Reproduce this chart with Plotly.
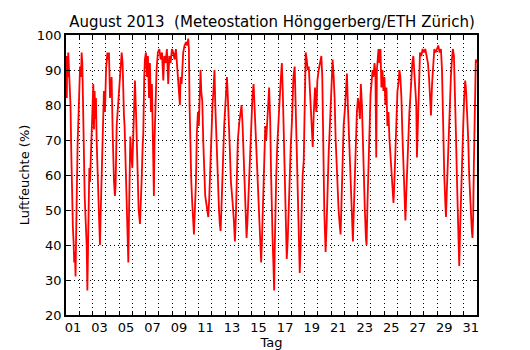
import plotly.graph_objects as go

# Time in days since 1 Aug 2013 00:00, relative humidity in %
t_day = [
    0.00, 0.03, 0.06, 0.09, 0.13, 0.17, 0.22, 0.28, 0.34, 0.40, 0.46, 0.52, 0.57, 0.62, 0.67, 0.72, 0.76, 0.80, 0.84, 0.88, 0.92, 0.96,
    1.00, 1.06, 1.13, 1.18, 1.23, 1.31, 1.36, 1.41, 1.46, 1.51, 1.56, 1.61, 1.66, 1.71, 1.76, 1.81, 1.86, 1.93,
    2.01, 2.06, 2.11, 2.16, 2.21, 2.26, 2.31, 2.39, 2.46, 2.51, 2.56, 2.61, 2.69, 2.76, 2.81, 2.86, 2.94,
    3.02, 3.12, 3.19, 3.24, 3.32, 3.39, 3.44, 3.52, 3.57, 3.62, 3.69, 3.74, 3.82, 3.89, 3.94,
    4.02, 4.10, 4.20, 4.27, 4.32, 4.37, 4.42, 4.50, 4.57, 4.65, 4.70, 4.75, 4.80, 4.85, 4.92,
    5.00, 5.08, 5.15, 5.20, 5.28, 5.35, 5.43, 5.48, 5.58, 5.65, 5.70, 5.78, 5.83, 5.90, 5.95,
    6.03, 6.11, 6.18, 6.26, 6.33, 6.41, 6.48, 6.53, 6.58, 6.63, 6.68, 6.76, 6.83, 6.93,
    7.04, 7.14, 7.24, 7.34, 7.41, 7.51, 7.61, 7.71, 7.79, 7.89, 7.99,
    8.09, 8.19, 8.29, 8.37, 8.44, 8.52, 8.59, 8.64, 8.72, 8.84, 8.94,
    9.07, 9.15, 9.22, 9.27, 9.32, 9.37, 9.45, 9.52, 9.60, 9.65, 9.72, 9.80, 9.87, 9.95,
    10.02, 10.08, 10.15, 10.20, 10.28, 10.35, 10.43, 10.50, 10.58, 10.65, 10.73, 10.80, 10.88, 10.95,
    11.05, 11.12, 11.20, 11.26, 11.33, 11.40, 11.47, 11.54, 11.60, 11.66, 11.72, 11.79, 11.86, 11.93,
    12.01, 12.09, 12.14, 12.21, 12.29, 12.36, 12.44, 12.51, 12.59, 12.66, 12.74, 12.81, 12.89, 12.96,
    13.07, 13.14, 13.24, 13.32, 13.39, 13.47, 13.54, 13.62, 13.69, 13.77, 13.84, 13.92, 13.99,
    14.07, 14.15, 14.22, 14.30, 14.37, 14.45, 14.52, 14.60, 14.67, 14.72, 14.80, 14.87, 14.95,
    15.03, 15.10, 15.17, 15.25, 15.32, 15.40, 15.47, 15.52, 15.58, 15.64, 15.70, 15.75, 15.80, 15.86, 15.93,
    16.00, 16.08, 16.18, 16.28, 16.35, 16.43, 16.50, 16.58, 16.65, 16.73, 16.80, 16.88, 16.95,
    17.05, 17.15, 17.25, 17.33, 17.40, 17.48, 17.55, 17.63, 17.70, 17.78, 17.85, 17.93,
    18.00, 18.08, 18.16, 18.23, 18.31, 18.38, 18.46, 18.53, 18.61, 18.68, 18.78, 18.88, 18.96,
    19.06, 19.16, 19.26, 19.33, 19.38, 19.43, 19.48, 19.53, 19.58, 19.66, 19.73, 19.81, 19.88, 19.96,
    20.04, 20.11, 20.19, 20.26, 20.34, 20.41, 20.49, 20.56, 20.64, 20.71, 20.78, 20.86, 20.94,
    21.04, 21.11, 21.19, 21.26, 21.33, 21.41, 21.48, 21.55, 21.64, 21.71, 21.79, 21.86, 21.94,
    22.02, 22.09, 22.17, 22.24, 22.32, 22.39, 22.47, 22.54, 22.62, 22.67, 22.74, 22.82, 22.89, 22.97,
    23.04, 23.12, 23.19, 23.27, 23.34, 23.40, 23.45, 23.52, 23.57, 23.64, 23.72, 23.79, 23.87, 23.94,
    24.02, 24.09, 24.17, 24.24, 24.32, 24.40, 24.47, 24.55, 24.62, 24.70, 24.77, 24.85, 24.92,
    25.00, 25.07, 25.15, 25.22, 25.30, 25.37, 25.45, 25.52, 25.60, 25.67, 25.75, 25.82, 25.90, 25.97,
    26.05, 26.12, 26.20, 26.27, 26.35, 26.42, 26.47, 26.55, 26.63, 26.70, 26.80, 26.90,
    27.00, 27.10, 27.20, 27.30, 27.38, 27.45, 27.53, 27.61, 27.68, 27.78, 27.88, 27.98,
    28.08, 28.18, 28.28, 28.36, 28.41, 28.46, 28.53, 28.61, 28.66, 28.73, 28.81, 28.88, 28.96,
    29.03, 29.11, 29.18, 29.26, 29.33, 29.41, 29.48, 29.56, 29.61, 29.66, 29.73, 29.81, 29.88, 29.96,
    30.03, 30.11, 30.18, 30.26, 30.34, 30.41, 30.49, 30.56, 30.61, 30.66, 30.71, 30.76, 30.81, 30.86, 30.91, 30.97,
]

rh = [
    90, 94, 82, 93, 88, 95, 91, 87, 80, 66, 52, 45, 41, 35, 38, 31, 42, 55, 62, 70, 74, 80,
    84, 91, 88, 95, 92, 72, 62, 54, 49, 44, 40, 27, 36, 48, 62, 58, 64, 70,
    77, 86, 73, 84, 76, 82, 70, 62, 50, 45, 40, 48, 58, 70, 75, 84, 78,
    90, 95, 93, 95, 82, 86, 88, 72, 62, 58, 54, 57, 74, 78, 82,
    86, 90, 95, 92, 82, 77, 74, 61, 49, 36, 35, 48, 62, 71, 66,
    62, 72, 80, 87, 78, 65, 54, 50, 46, 52, 58, 68, 72, 88, 93,
    95, 88, 94, 82, 92, 78, 86, 76, 66, 54, 70, 82, 90, 95,
    96, 93, 95, 87, 94, 92, 96, 86, 94, 92, 96,
    95, 93, 96, 91, 87, 85, 80, 88, 86, 95, 97,
    98, 97, 99, 96, 80, 70, 58, 52, 47, 43, 50, 58, 72, 78,
    74, 82, 90, 84, 81, 70, 60, 54, 52, 50, 48, 53, 62, 72,
    80, 84, 90, 80, 72, 62, 54, 50, 46, 44, 50, 56, 66, 74,
    80, 86, 88, 82, 76, 67, 58, 53, 51, 47, 41, 48, 60, 70,
    75, 78, 80, 74, 66, 57, 50, 42, 47, 55, 62, 70, 78,
    83, 86, 80, 72, 64, 58, 52, 44, 38, 35, 44, 55, 66,
    74, 70, 77, 80, 85, 76, 60, 48, 42, 35, 27, 40, 58, 60, 68,
    72, 79, 86, 92, 84, 70, 55, 45, 36, 42, 52, 61, 68,
    76, 88, 91, 78, 62, 52, 44, 32, 40, 52, 60, 64,
    75, 95, 93, 90, 91, 86, 80, 72, 68, 77, 85, 78, 87,
    90, 92, 94, 88, 72, 62, 50, 44, 38, 46, 58, 66, 72, 80,
    86, 93, 88, 82, 70, 62, 54, 50, 46, 43, 52, 62, 74,
    79, 84, 89, 80, 72, 64, 56, 48, 41, 50, 62, 72, 78,
    82, 80, 76, 86, 80, 68, 58, 50, 42, 40, 52, 64, 78, 83,
    86, 90, 88, 92, 89, 65, 90, 95, 96, 92, 96, 85, 90, 84,
    88, 80, 85, 74, 78, 70, 66, 62, 56, 52, 58, 68, 75,
    84, 86, 90, 88, 82, 72, 62, 54, 47, 55, 64, 72, 78, 82,
    88, 92, 94, 90, 85, 80, 65, 78, 88, 95, 94, 96,
    95, 96, 94, 92, 88, 82, 77, 86, 92, 96, 95, 96,
    97, 95, 96, 90, 80, 70, 60, 52, 48, 56, 66, 74, 82,
    88, 93, 96, 94, 86, 72, 60, 48, 40, 34, 45, 58, 66, 74,
    82, 87, 84, 78, 70, 60, 52, 46, 44, 42, 48, 62, 78, 88, 93, 92,
]

day_ticks = list(range(0, 32))
day_labels = [("%02d" % (d + 1)) if d % 2 == 0 and d < 31 else "" for d in day_ticks]
y_ticks = [20, 30, 40, 50, 60, 70, 80, 90, 100]

FONT = "DejaVu Sans"
# the page places the figure 8 px from the window's top-left corner
W, H = 522, 342

fig = go.Figure()
fig.add_trace(go.Scatter(
    x=t_day, y=rh, mode="lines",
    line=dict(color="#ff0000", width=1.8),
    showlegend=False, hoverinfo="skip",
))

fig.update_layout(
    width=W, height=H,
    margin=dict(l=58, r=53, t=27, b=35),
    paper_bgcolor="white", plot_bgcolor="white",
    font=dict(family=FONT, size=13, color="black"),
    title=dict(
        text="August 2013\u00a0\u00a0(Meteostation Hönggerberg/ETH Zürich)",
        x=264 / W, xanchor="center", xref="container",
        y=1 - 14 / H, yanchor="middle", yref="container",
        font=dict(family=FONT, size=15, color="black"),
    ),
)

fig.update_xaxes(
    range=[0, 31], tickmode="array", tickvals=day_ticks, ticktext=day_labels,
    ticks="inside", ticklen=4, tickwidth=1, tickcolor="black",
    ticklabelshift=7, automargin=False,
    showline=True, linecolor="black", linewidth=1.5, mirror="ticks",
    showgrid=True, gridcolor="black", gridwidth=1, griddash="1px,3px",
    zeroline=False,
    tickfont=dict(family=FONT, size=13, color="black"),
    title=dict(text="Tag", font=dict(family=FONT, size=13, color="black"), standoff=1),
)
fig.update_yaxes(
    range=[20, 100], tickmode="array", tickvals=y_ticks,
    ticks="inside", ticklen=4, tickwidth=1, tickcolor="black",
    automargin=False,
    showline=True, linecolor="black", linewidth=1.5, mirror="ticks",
    showgrid=True, gridcolor="black", gridwidth=1, griddash="1px,3px",
    zeroline=False,
    tickfont=dict(family=FONT, size=13, color="black"),
    title=dict(text="Luftfeuchte (%)", font=dict(family=FONT, size=13, color="black"), standoff=4),
)

fig.write_html("out.html")
